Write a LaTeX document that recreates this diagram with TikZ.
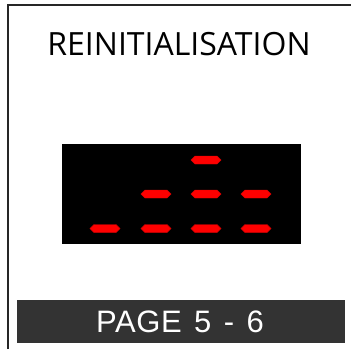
\documentclass[tikz,border=0pt]{standalone}
\usepackage{fontspec}
\setmainfont{Liberation Sans}
\newfontfamily\titlefont{Open Sans}
\newfontfamily\pagefont[WordSpace=1.35,LetterSpace=2]{Liberation Sans}
\usetikzlibrary{positioning,shapes.symbols}

\tikzset{seg/.style={shape=signal, signal to=east and west, fill=red, draw=red!85!black, line width=0.4pt, minimum width=30pt, minimum height=8pt, inner sep=0pt}}

\begin{document}
\begin{tikzpicture}[x=1pt,y=-1pt]
			\useasboundingbox (0,0) rectangle (351,349);
			\draw[line width=2pt, black!85] (8,349) -- (8,5) -- (351,5);
			\node[name=title, inner sep=0pt, font=\titlefont\fontsize{32}{32}\selectfont] at (179,44) {REINITIALISATION};
			\node[name=disp, fill=black, minimum width=239pt, minimum height=100pt, inner sep=0pt] at (181.5,193.5) {};
			\node[name=s1, seg] at (206,160) {};
			\node[name=s2, seg] at (156,194) {};
			\node[name=s3, seg] at (206,194) {};
			\node[name=s4, seg] at (256,194) {};
			\node[name=s5, seg] at (105,228.5) {};
			\node[name=s6, seg] at (156,228.5) {};
			\node[name=s7, seg] at (206,228.5) {};
			\node[name=s8, seg] at (256,228.5) {};
			\node[name=bar, fill=black!80, minimum width=328pt, minimum height=43pt, inner sep=0pt] at (181,321.5) {};
			\node[name=page, text=white, inner sep=0pt, font=\pagefont\fontsize{31}{31}\selectfont] at (180,322) {PAGE 5 - 6};
		\end{tikzpicture}
\end{document}
